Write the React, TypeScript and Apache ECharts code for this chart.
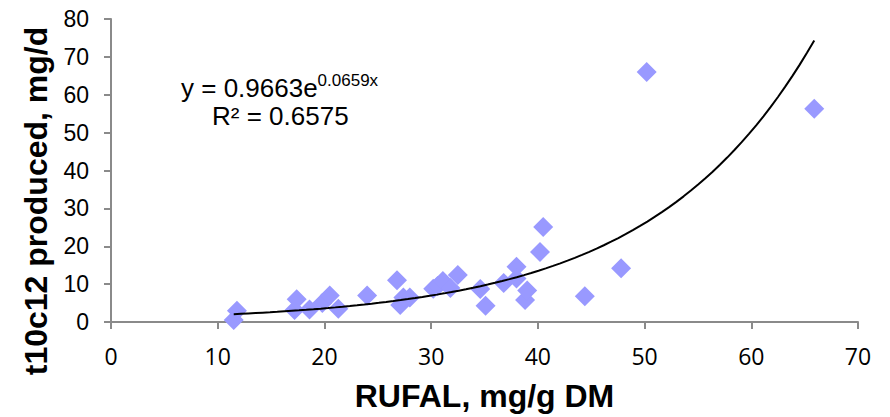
import React, { useEffect, useRef } from "react";
import * as echarts from "echarts";

const rufal = [11.5, 11.8, 17.2, 17.4, 18.6, 19.8, 20.5, 21.3, 24.0, 26.8, 27.1, 27.4, 28.0, 30.2, 30.6, 31.1, 31.8, 32.5, 34.6, 35.1, 36.8, 38.0, 38.0, 38.8, 39.0, 40.2, 40.5, 44.4, 47.8, 50.2, 65.9];
const t10c12 = [0.5, 3.0, 3.2, 6.0, 3.3, 5.0, 7.0, 3.5, 7.0, 11.0, 4.5, 6.5, 6.5, 8.8, 9.5, 10.8, 9.0, 12.4, 8.7, 4.3, 10.3, 14.6, 11.5, 5.8, 8.3, 18.5, 25.1, 6.8, 14.2, 66.0, 56.3];

// Trendline as displayed in the chart: y = 0.9663 e^(0.0659x), R² = 0.6575
const trendA = 0.9663;
const trendB = 0.0659;
const rSquared = "0.6575";

const xTicks = { min: 0, max: 70, interval: 10 };
const yTicks = { min: 0, max: 80, interval: 10 };

export default function App() {
  const ref = useRef<HTMLDivElement>(null);
  useEffect(() => {
    if (!ref.current) return;
    const chart = echarts.init(ref.current, null, { renderer: "svg" });
    const points = rufal.map((x, i) => [x, t10c12[i]]);
    const xMin = Math.min(...rufal);
    const xMax = Math.max(...rufal);
    const steps = 80;
    const trend: number[][] = [];
    for (let i = 0; i <= steps; i++) {
      const x = xMin + ((xMax - xMin) * i) / steps;
      trend.push([x, trendA * Math.exp(trendB * x)]);
    }
    const axisLine = { show: true, lineStyle: { color: "#8a8a8a", width: 2 } };
    chart.setOption({
      animation: false,
      grid: { left: 111, right: 32, top: 19, bottom: 95, containLabel: false },
      xAxis: {
        type: "value",
        ...xTicks,
        axisLine: { ...axisLine, onZero: false },
        axisTick: { show: true, length: 7, inside: false, lineStyle: { color: "#8a8a8a", width: 2 } },
        splitLine: { show: false },
        axisLabel: { fontFamily: "Open Sans", fontSize: 23, color: "#000", margin: 22 },
        name: "RUFAL, mg/g DM",
        nameLocation: "middle",
        nameGap: 58,
        nameTextStyle: { fontFamily: "Liberation Sans", fontWeight: "bold", fontSize: 32, color: "#000" },
      },
      yAxis: {
        type: "value",
        ...yTicks,
        axisLine: { ...axisLine, onZero: false },
        axisTick: { show: true, length: 7, inside: false, lineStyle: { color: "#8a8a8a", width: 2 } },
        splitLine: { show: false },
        axisLabel: { fontFamily: "Liberation Sans", fontSize: 23, color: "#000", margin: 22 },
      },
      graphic: [
        {
          type: "text",
          x: 36,
          y: 201,
          rotation: Math.PI / 2,
          style: {
            text: "t10c12 produced, mg/d",
            font: "bold 32px 'Liberation Sans'",
            fill: "#000",
            align: "center",
            verticalAlign: "middle",
          },
        },
        {
          type: "text",
          left: 181,
          top: 72,
          style: {
            text: "{a|y = " + trendA.toFixed(4) + "e}{b|" + trendB.toFixed(4) + "x}",
            rich: {
              a: { fontFamily: "Liberation Sans", fontSize: 26, lineHeight: 32, color: "#000" },
              b: { fontFamily: "Liberation Sans", fontSize: 17, lineHeight: 18, verticalAlign: "top", color: "#000" },
            },
          },
        },
        {
          type: "text",
          left: 212,
          top: 103,
          style: {
            text: "R² = " + rSquared,
            font: "26px 'Liberation Sans'",
            fill: "#000",
          },
        },
      ],
      series: [
        {
          type: "scatter",
          data: points,
          symbol: "diamond",
          symbolSize: 20,
          itemStyle: { color: "#9999ff", opacity: 1 },
          z: 2,
        },
        {
          type: "line",
          data: trend,
          showSymbol: false,
          symbol: "none",
          lineStyle: { color: "#000", width: 2 },
          z: 3,
          silent: true,
        },
      ],
    });
    return () => chart.dispose();
  }, []);
  return <div ref={ref} style={{ width: 890, height: 417, position: "absolute", left: 0, top: 0 }} />;
}
